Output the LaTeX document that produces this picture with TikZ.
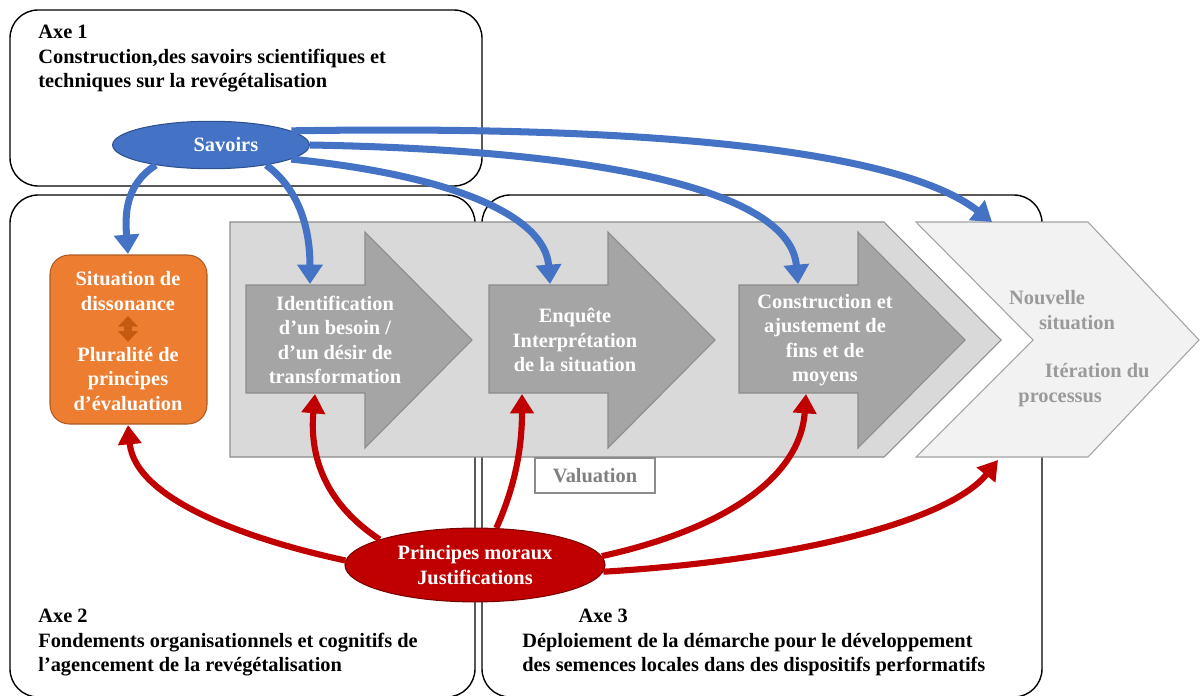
\documentclass[tikz,border=0pt]{standalone}
\usepackage{fontspec}
\setmainfont{Liberation Serif}
\usetikzlibrary{arrows.meta,shapes.geometric}
\definecolor{bleuSav}{HTML}{4472C4}
\definecolor{bleuBord}{HTML}{2F528F}
\definecolor{rougeMor}{HTML}{C00000}
\definecolor{rougeBord}{HTML}{7B0000}
\definecolor{orangeSit}{HTML}{ED7D31}
\definecolor{orangeBord}{HTML}{AE5A21}
\definecolor{orangeFl}{HTML}{C55A11}
\definecolor{grisClair}{HTML}{D9D9D9}
\definecolor{grisFonce}{HTML}{A5A5A5}
\definecolor{grisBord}{HTML}{8C8C8C}
\definecolor{grisNouv}{HTML}{F2F2F2}
\definecolor{grisTexte}{HTML}{9A9A9A}

\begin{document}
\begin{tikzpicture}[
        x=0.02cm, y=-0.02cm,
        every node/.style={inner sep=0pt, font=\fontsize{11.6}{13.9}\selectfont\bfseries},
        boxAxe/.style={draw=black, line width=0.8pt, rounded corners=16pt},
        chevronGray/.style={draw=grisBord, fill=grisClair, line width=0.6pt},
        chevronNouv/.style={draw=grisBord!80, fill=grisNouv, line width=0.6pt},
        arrowGray/.style={draw=grisBord, fill=grisFonce, line width=0.6pt},
        boxOrange/.style={draw=orangeBord, fill=orangeSit, line width=0.6pt, rounded corners=11pt},
        textAxe/.style={align=left, anchor=north west, text=black},
        textWhite/.style={align=center, text=white},
        nodeSavoirs/.style={ellipse, draw=bleuBord, fill=bleuSav, line width=0.6pt, minimum width=112pt, minimum height=27pt, text=white},
        nodePrincipes/.style={ellipse, draw=rougeBord, fill=rougeMor, line width=0.6pt, minimum width=148pt, minimum height=42pt, text=white, align=center},
        edgeBlue/.style={draw=bleuSav, line width=4pt, -{Triangle[width=14pt,length=11pt]}},
        edgeRed/.style={draw=rougeMor, line width=3.5pt, -{Triangle[width=13pt,length=11pt]}}
        ]
        \useasboundingbox (0,0) rectangle (1201,696);

        % les trois axes
        \draw[boxAxe] (10,10) rectangle (482,186);
        \draw[boxAxe] (10,195) rectangle (475,697);
        \draw[boxAxe] (482,195) rectangle (1042,697);
        \node[textAxe] (axe1) at (38,25) {Axe 1\\Construction,des savoirs scientifiques et\\techniques sur la revégétalisation};
        \node[textAxe] (axe2) at (38,609) {Axe 2\\Fondements organisationnels et cognitifs de\\l’agencement de la revégétalisation};
        \node[textAxe] (axe3) at (522,609) {\hspace*{32pt}Axe 3\\Déploiement de la démarche pour le développement\\des semences locales dans des dispositifs performatifs};

        \draw[chevronGray] (230,222) -- (884,222) -- (1001,340) -- (884,457) -- (230,457) -- cycle;
        \draw[chevronNouv] (916,222) -- (1088,222) -- (1199,340) -- (1088,457) -- (916,457) -- (1033,340) -- cycle;
        \foreach \d in {0,243,493}
            \draw[arrowGray] ({\d+246},285) -- ({\d+365},285) -- ({\d+365},232) -- ({\d+472},340)
                -- ({\d+365},448) -- ({\d+365},393) -- ({\d+246},393) -- cycle;

        \node[textWhite] (ident) at (335,340) {Identification\\d’un besoin /\\d’un désir de\\transformation};
        \node[textWhite] (enquete) at (575,340) {Enquête\\Interprétation\\de la situation};
        \node[textWhite] (constr) at (825,340) {Construction et\\ajustement de\\fins et de\\moyens};
        \node[align=left, text=grisTexte] (nouv) at (1062,310) {Nouvelle\\\hspace*{17pt}situation};
        \node[align=left, text=grisTexte] (iter) at (1084,385) {\hspace*{15pt}Itération du\\processus};

        \draw[draw=grisBord, fill=white, line width=0.6pt] (535,458) rectangle (655,493);
        \node[text=gray] (valuation) at (595,476) {Valuation};

        \draw[boxOrange] (50,255) rectangle (207,424);
        \node[textWhite] (situ) at (128,291) {Situation de\\dissonance};
        \node[textWhite] (plur) at (128,379) {Pluralité de\\principes\\d’évaluation};
        \draw[orangeFl, line width=4pt, shorten <=3pt, shorten >=3pt,
            {Triangle[width=11pt,length=6pt]}-{Triangle[width=11pt,length=6pt]}] (situ) -- (plur);

        \coordinate (tOrange) at (128,254);
        \coordinate (tIdent) at (310,284);
        \coordinate (tEnquete) at (550,284);
        \coordinate (tConstr) at (798,284);
        \coordinate (tNouv) at (992,222);
        \coordinate (bOrange) at (128,425);
        \coordinate (bIdent) at (315,394);
        \coordinate (bEnquete) at (522,394);
        \coordinate (bConstr) at (806,394);
        \coordinate (bNouv) at (998,460);

        \node[nodeSavoirs] (savoirs) at (211,145) {\hspace*{17pt}Savoirs};
        \draw[edgeBlue] (savoirs.200) .. controls (125,185) and (125,215) .. (tOrange);
        \draw[edgeBlue] (savoirs.340) .. controls (300,190) and (310,230) .. (tIdent);
        \draw[edgeBlue] (savoirs.350) .. controls (450,175) and (545,215) .. (tEnquete);
        \draw[edgeBlue] (savoirs.0) .. controls (600,150) and (790,190) .. (tConstr);
        \draw[edgeBlue] (savoirs.10) .. controls (650,125) and (900,150) .. (tNouv);

        \node[nodePrincipes] (principes) at (475,565) {Principes moraux\\Justifications};
        \draw[edgeRed] (principes.178) .. controls (250,540) and (135,500) .. (bOrange);
        \draw[edgeRed] (principes.165) .. controls (320,500) and (310,450) .. (bIdent);
        \draw[edgeRed] (principes.60) .. controls (518,480) and (522,440) .. (bEnquete);
        \draw[edgeRed] (principes.4) .. controls (720,530) and (800,480) .. (bConstr);
        \draw[edgeRed] (principes.357) .. controls (800,560) and (950,520) .. (bNouv);
    \end{tikzpicture}
\end{document}
